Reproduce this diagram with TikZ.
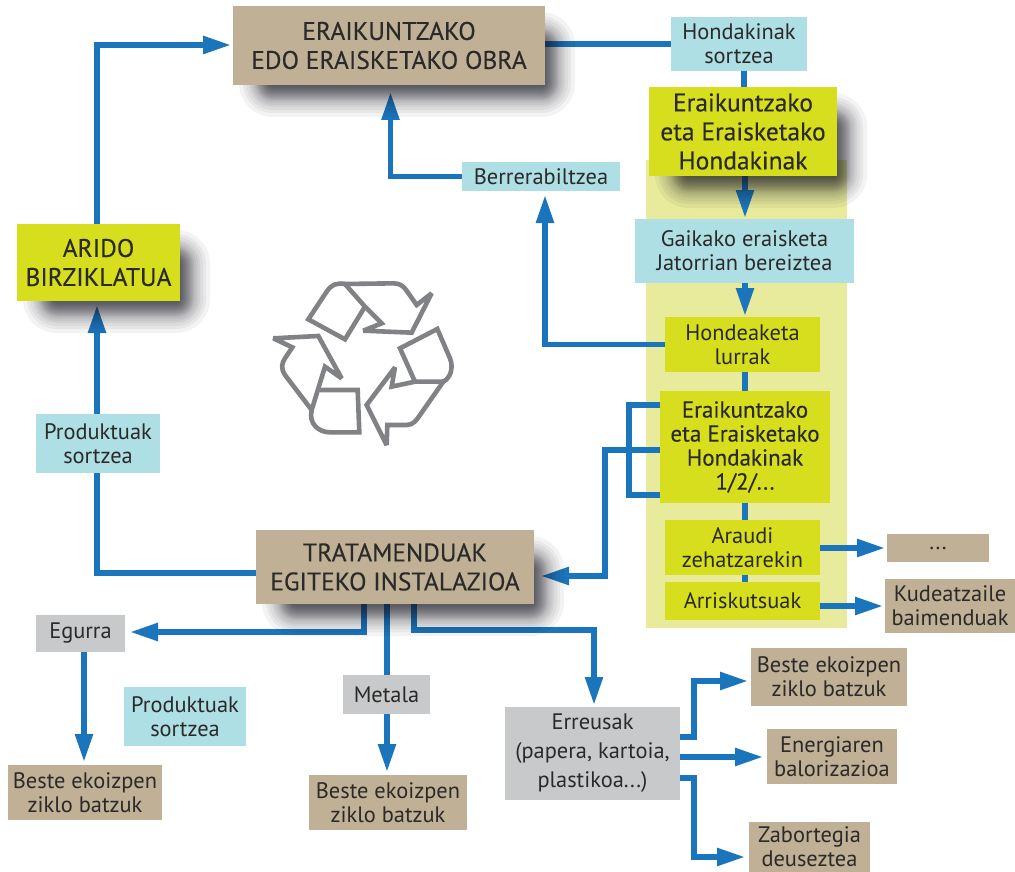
\documentclass[tikz,border=0pt]{standalone}
\usepackage{fontspec}
\setmainfont{PT Sans}
\newfontfamily\medfont[FakeBold=0.25]{PT Sans}
\usetikzlibrary{arrows.meta,calc}
\pgfdeclarelayer{bandl}\pgfdeclarelayer{connl}\pgfdeclarelayer{shadl}
\pgfsetlayers{bandl,connl,shadl,main}
\definecolor{tanc}{HTML}{BFB096}
\definecolor{limec}{HTML}{D6DE1E}
\definecolor{cyanc}{HTML}{AEDFE4}
\definecolor{grayc}{HTML}{C8C9CB}
\definecolor{bandc}{HTML}{E8EA9C}
\definecolor{bluec}{HTML}{1B75BC}
\definecolor{textc}{HTML}{2B2A29}
\definecolor{iconc}{HTML}{808285}
\definecolor{shadc}{HTML}{14141E}
\tikzset{
 x=1pt,y=-1pt,
 bx/.style={inner sep=0pt,outer sep=0pt,align=center,text=textc,font=\fontsize{22.4}{24}\selectfont},
 head/.style={font=\medfont\fontsize{25.5}{29}\selectfont},
 headb/.style={font=\medfont\fontsize{23}{24}\selectfont},
 tanb/.style={bx,fill=tanc},
 limeb/.style={bx,fill=limec},
 cyanb/.style={bx,fill=cyanc},
 grayb/.style={bx,fill=grayc},
 conn/.style={draw=bluec,line width=5.5pt,line join=miter},
 arr/.style={conn,-{Triangle[length=28pt,width=17pt]},shorten >=#1},
 arr/.default=4pt,
 icon/.style={draw=iconc,line width=4.6pt,line join=miter,miter limit=2.5},
}
\newcommand{\bxn}[7][]{\node[#2,#1,minimum width=#5-#3,minimum height=#6-#4] (#7) at ({(#3+#5)/2},{(#4+#6)/2})}
\newcommand{\softshadow}[5]{%
 \foreach \k in {0,1,2,3,4,5,6,7,8,9,10,11,12,13,14,16,18,20,23,26,30}{%
  \fill[shadc,opacity=#5,rounded corners={(\k+4)*1pt}] ({#1-\k+36},{#2-\k+36}) rectangle ({#3+\k},{#4+\k+2});
 }}
\begin{document}
\begin{tikzpicture}
\useasboundingbox (0,0) rectangle (1015,872);
\begin{pgfonlayer}{bandl}
\fill[white] (0,0) rectangle (1015,872);
\fill[bandc] (646,160) rectangle (847,628);
\end{pgfonlayer}
% nodes
\bxn[head]{tanb}{233}{6}{545}{85}{obra} {ERAIKUNTZAKO\\EDO ERAISKETAKO OBRA};
\bxn{cyanb}{671}{17}{807}{71}{hs} {Hondakinak\\sortzea};
\bxn[head]{limeb}{649}{87}{837}{176}{eeh} {Eraikuntzako\\eta Eraisketako\\Hondakinak};
\bxn{cyanb}{635}{219}{854}{283}{gai} {Gaikako eraisketa\\Jatorrian bereiztea};
\bxn{limeb}{665}{317}{820}{372}{hon} {Hondeaketa\\lurrak};
\bxn[headb]{limeb}{660}{391}{830}{503}{eehb} {Eraikuntzako\\eta Eraisketako\\Hondakinak\\1/2/...};
\bxn{limeb}{665}{520}{820}{575}{ara} {Araudi\\zehatzarekin};
\bxn{limeb}{665}{582}{820}{620}{arr} {Arriskutsuak};
\bxn{tanb}{887}{534}{989}{562}{dots} {...};
\bxn{tanb}{885}{579}{1015}{633}{kud} {Kudeatzaile\\baimenduak};
\bxn{cyanb}{462}{162}{620}{191}{ber} {Berrerabiltzea};
\bxn[head]{limeb}{17}{224}{180}{301}{ari} {ARIDO\\BIRZIKLATUA};
\bxn{cyanb}{36}{414}{160}{473}{pr} {Produktuak\\sortzea};
\bxn[head]{tanb}{256}{530}{534}{604}{tra} {TRATAMENDUAK\\EGITEKO INSTALAZIOA};
\bxn{grayb}{36}{615}{125}{652}{egu} {Egurra};
\bxn{grayb}{343}{675}{430}{714}{met} {Metala};
\bxn{cyanb}{124}{687}{246}{746}{prb} {Produktuak\\sortzea};
\bxn{tanb}{8}{765}{162}{820}{b1} {Beste ekoizpen\\ziklo batzuk};
\bxn{tanb}{309}{775}{467}{830}{b2} {Beste ekoizpen\\ziklo batzuk};
\bxn[font=\fontsize{22.4}{29}\selectfont]{grayb}{505}{707}{680}{800}{err} {Erreusak\\(papera, kartoia,\\plastikoa...)};
\bxn{tanb}{751}{648}{907}{706}{b3} {Beste ekoizpen\\ziklo batzuk};
\bxn{tanb}{767}{729}{897}{784}{ene} {Energiaren\\balorizazioa};
\bxn{tanb}{749}{822}{870}{872}{zab} {Zabortegia\\deuseztea};
\begin{pgfonlayer}{shadl}
\softshadow{649}{87}{837}{176}{0.05}
\softshadow{17}{224}{180}{301}{0.05}
\softshadow{233}{6}{545}{85}{0.05}
\softshadow{256}{530}{534}{604}{0.05}
\end{pgfonlayer}
\begin{pgfonlayer}{connl}
\draw[conn] (hs.west) -- (hs.west -| obra.east);
\draw[conn] (hs.south -| 744,0) -- (eeh.north -| 744,0);
\draw[arr=1pt] (eeh.south -| 745,0) -- (gai.north -| 745,0);
\draw[arr=1pt] (gai.south -| 745,0) -- (hon.north -| 745,0);
\draw[conn] (hon.south -| 745,0) -- (eehb.north -| 745,0);
\draw[conn] (eehb.south -| 745,0) -- (ara.north -| 745,0);
\draw[conn] (ara.south -| 745,0) -- (arr.north -| 745,0);
\draw[arr] (hon.west) -| (ber.south -| 545,0);
\draw[arr=7pt] (ber.west) -| (obra.south -| 390.5,0);
\draw[conn] (eehb.west |- 0,405) -| (629,495) -- (eehb.west |- 0,495);
\draw[arr=7pt] (eehb.west |- 0,450) -| (605,576) -- (tra.east |- 0,576);
\draw[conn] (tra.west |- 0,573) -| (pr.south -| 97,0);
\draw[arr] (pr.north -| 97,0) -- (ari.south -| 97,0);
\draw[arr=2pt] (ari.north -| 97,0) |- (obra.west |- 0,45);
\draw[arr=5pt] (tra.south -| 364,0) |- (egu.east |- 0,632);
\draw[arr=3pt] (egu.south -| 84,0) -- (b1.north -| 84,0);
\draw[conn] (tra.south -| 387,0) -- (met.north -| 387,0);
\draw[arr=3pt] (met.south -| 387,0) -- (b2.north -| 387,0);
\draw[arr=2pt] (tra.south -| 414,0) |- (594,630) -- (err.north -| 594,0);
\draw[arr=3pt] (err.east |- 0,737) -| (694,681) -- (b3.west |- 0,681);
\draw[arr=4pt] (err.east |- 0,757) -- (ene.west |- 0,757);
\draw[arr=4pt] (err.east |- 0,778) -| (694,857) -- (zab.west |- 0,857);
\draw[arr=2pt] (ara.east |- 0,548) -- (dots.west |- 0,548);
\draw[arr=2pt] (arr.east |- 0,606) -- (kud.west |- 0,606);
\end{pgfonlayer}
\begin{scope}[shift={(230,260)},x=0.3333pt,y=-0.3333pt]
\draw[icon] (345,72) -- (490,70) .. controls (510,70) and (520,78) .. (530,92) -- (560,135) -- (605,100) -- (545,218) -- (400,212) -- (455,190) -- (405,140) -- cycle;
\draw[icon] (405,140) -- (345,238) -- (235,178) -- (290,95) .. controls (305,72) and (325,68) .. (345,72);
\draw[icon] (130,235) -- (265,228) -- (335,355) -- (285,320) -- (245,450) -- (165,345) .. controls (152,325) and (155,310) .. (165,295) -- (187,262) -- cycle;
\draw[icon] (270,390) -- (383,390) -- (388,517) -- (300,517) .. controls (265,517) and (235,490) .. (245,450);
\draw[icon] (495,322) -- (410,435) -- (470,555) -- (472,495) -- (530,495) .. controls (550,495) and (560,480) .. (570,465) -- (640,365) -- (555,365) -- (485,380) -- cycle;
\draw[icon] (555,365) -- (510,265) -- (622,207) -- (660,295) .. controls (672,325) and (660,355) .. (640,365);
\end{scope}
\end{tikzpicture}
\end{document}
